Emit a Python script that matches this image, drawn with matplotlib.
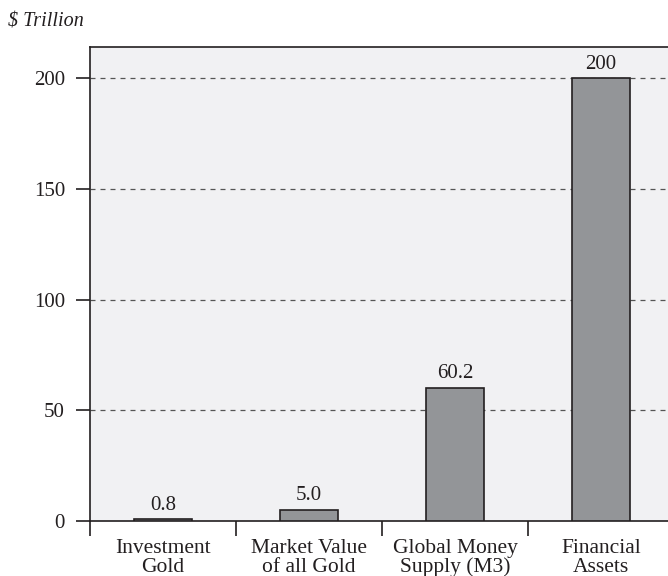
import numpy as np
import matplotlib
matplotlib.use('Agg')
import matplotlib.pyplot as plt

# data
categories = ['Investment\nGold', 'Market Value\nof all Gold', 'Global Money\nSupply (M3)', 'Financial\nAssets']
values = [0.8, 5.0, 60.2, 200]
value_labels = ['0.8', '5.0', '60.2', '200']
yticks = [0, 50, 100, 150, 200]

plt.rcParams['font.family'] = ['Liberation Serif', 'DejaVu Serif']
txt = '#231f20'

fig = plt.figure(figsize=(6.68, 5.76), dpi=100)
ax = fig.add_axes([90 / 668, 55 / 576, 584 / 668, 474 / 576])
ax.set_facecolor('#f1f1f3')

x = np.arange(len(categories))
ax.bar(x, values, width=0.4, color='#939598', edgecolor=txt, linewidth=1.2, zorder=3)

for xi, v, lab in zip(x, values, value_labels):
    ax.text(xi, v + 2, lab, ha='center', va='bottom', fontsize=15, color=txt, zorder=4)

ax.set_xlim(-0.5, len(categories) - 0.5)
ax.set_ylim(0, 214)

# grid
for yv in yticks[1:]:
    ax.axhline(yv, color='#555555', linestyle=(0, (4, 4)), linewidth=0.9, zorder=1)

# y axis
ax.set_yticks(yticks)
ax.tick_params(axis='y', direction='out', length=10, width=1.2, colors=txt, labelsize=15, pad=8)

# x axis: ticks at boundaries, labels in between
ax.set_xticks(np.arange(len(categories) + 1) - 0.5)
ax.set_xticklabels([])
ax.set_xticks(x, minor=True)
ax.set_xticklabels(categories, minor=True, fontsize=15.5, color=txt, linespacing=0.97)
ax.tick_params(axis='x', which='major', direction='out', length=11, width=1.2, colors=txt)
ax.tick_params(axis='x', which='minor', length=0, pad=13)

for s in ['left', 'top', 'bottom']:
    ax.spines[s].set_linewidth(1.2)
    ax.spines[s].set_color(txt)
ax.spines['right'].set_visible(False)

fig.text(8 / 668, 1 - 22 / 576, '\\$ Trillion', fontsize=14.5, style='italic', color=txt, va='center', ha='left')

fig.savefig('out.png', dpi=100)
